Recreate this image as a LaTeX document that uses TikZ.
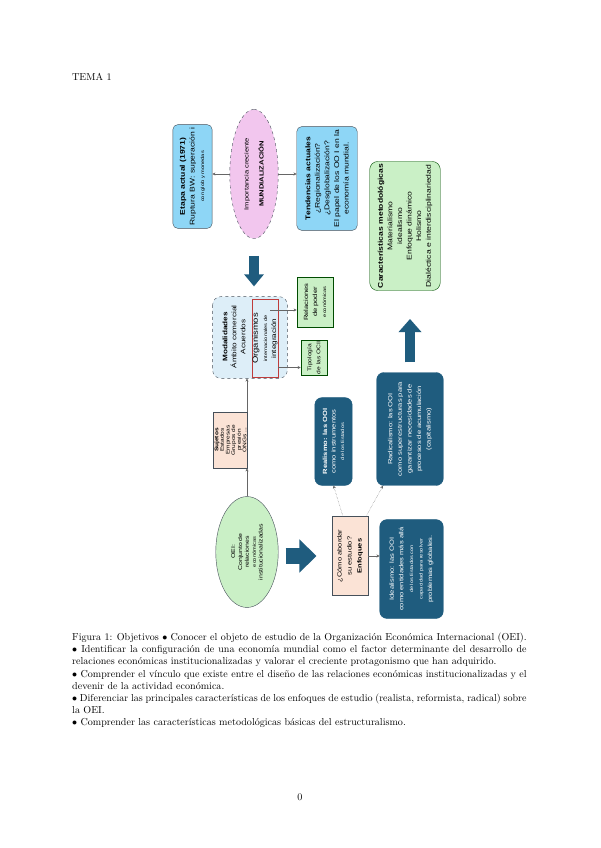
\documentclass[tikz,border=0pt]{standalone}
\usepackage{fontspec}
\usetikzlibrary{shapes.geometric, arrows.meta, calc}
\newfontfamily\diag[FakeStretch=1.25]{Liberation Sans}
\newcommand\smalltxt{\fontsize{4.5}{9}\selectfont}
\definecolor{boxblue}{RGB}{142,214,246}
\definecolor{boxpink}{RGB}{242,198,238}
\definecolor{boxgreen}{RGB}{202,240,198}
\definecolor{boxmod}{RGB}{221,238,248}
\definecolor{boxsand}{RGB}{251,227,214}
\definecolor{navy}{RGB}{31,92,126}
\definecolor{orgred}{RGB}{190,60,60}
\definecolor{edge}{RGB}{70,80,90}
\tikzset{
  rbox/.style={draw=edge, rotate=90, align=center, rounded corners=5pt, inner sep=1pt,
    font=\diag\fontsize{6.8}{9.5}\selectfont},
  bluebox/.style={rbox, fill=boxblue},
  greenbox/.style={rbox, fill=boxgreen, draw=green!30!black},
  sandbox/.style={rbox, fill=boxsand, rounded corners=0pt},
  navybox/.style={rbox, fill=navy, draw=navy, text=white, rounded corners=7pt},
  conn/.style={draw=gray!80!black, line width=0.4pt, -{Stealth[length=3pt,width=3pt]}},
  dotconn/.style={conn, densely dotted},
  fatarrow/.style={draw=navy, line width=#1}
}

\begin{document}
\begin{tikzpicture}[x=0.9917pt, y=-0.9917pt]
\fill[white] (0,0) rectangle (600,848);

\node[anchor=base west, inner sep=0] (tema) at (72,80) {TEMA 1};

\node[bluebox, minimum width=103, minimum height=39] (etapa) at (192.5,176.5)
  {\textbf{Etapa actual (1971)}\\Ruptura BW: superación i\\{\smalltxt con glob y monedas}};
\node[ellipse, draw=edge, dashed, fill=boxpink, rotate=90, minimum width=128, minimum height=48,
  inner sep=0, align=center, font=\diag\fontsize{6}{9}\selectfont] (mund) at (254,174)
  {Importancia creciente\\[6pt]\textbf{MUNDIALIZACIÓN}};
\node[bluebox, minimum width=103, minimum height=60] (tend) at (327,178.5)
  {\textbf{Tendencias actuales}\\¿Regionalización?\\¿Desglobalización?\\El papel de los OO I en la\\economía mundial.};
\node[greenbox, minimum width=128, minimum height=70, rounded corners=8pt] (carac) at (405,226)
  {\textbf{Características metodológicas}\\Materialismo\\idealismo\\Enfoque dinámico\\Holismo\\Dialéctica e interdisciplinariedad};

\node[rbox, fill=boxmod, dashed, minimum width=81, minimum height=74, rounded corners=8pt] (modal) at (250,337.5) {};
\node[rotate=90, align=center, inner sep=0, font=\diag\fontsize{6.5}{9}\selectfont] (modtxt) at (234,337)
  {\textbf{Modalidades}\\Ámbito comercial\\Acuerdos};
\node[draw=orgred, rotate=90, minimum width=77, minimum height=26, inner sep=0, align=center,
  font=\diag\fontsize{6.5}{9}\selectfont] (org) at (265,338.5)
  {{\fontsize{7.5}{9}\selectfont Organismos}\\{\smalltxt internacionales de}\\integración};
\node[greenbox, rounded corners=0pt, minimum width=50, minimum height=36, font=\diag\fontsize{6}{9}\selectfont] (rel) at (315,302)
  {Relaciones\\de poder\\{\smalltxt económicas}};
\node[greenbox, rounded corners=0pt, minimum width=29, minimum height=26, font=\diag\fontsize{5.3}{9}\selectfont] (tipo) at (314,357.5)
  {Tipología\\de las OCII};

\node[sandbox, minimum width=56, minimum height=31, font=\diag\fontsize{5.2}{5.6}\selectfont] (suj) at (230.5,440)
  {\textbf{Sujetos}\\Estados\\Empresas\\Grupos de\\presión\\ONGs ...};
\node[ellipse, draw=edge, fill=boxgreen, rotate=90, minimum width=110, minimum height=62, inner sep=0,
  align=center, font=\diag\fontsize{5.5}{6.8}\selectfont] (oei) at (247,552)
  {OEI:\\Conjunto de\\relaciones\\{\smalltxt económicas}\\institucionalizadas};
\node[sandbox, minimum width=78, minimum height=36, font=\diag\fontsize{6}{10}\selectfont] (como) at (350,556)
  {¿Cómo abordar\\su estudio?\\\textbf{Enfoques}};

\node[navybox, minimum width=87, minimum height=37, font=\diag\fontsize{6}{8.5}\selectfont] (real) at (333.5,441.5)
  {\textbf{Realismo: las OOI}\\como instrumentos\\{\smalltxt de los Estados}};
\node[navybox, minimum width=112, minimum height=66, font=\diag\fontsize{6}{9.5}\selectfont] (radi) at (410,429)
  {Radicalismo: las OOI\\como superestructuras para\\garantizar necesidades de\\procesos de acumulación\\(capitalismo)};
\node[navybox, minimum width=98, minimum height=63, font=\diag\fontsize{6}{9.5}\selectfont] (idea) at (411.5,569)
  {Idealismo: las OOI\\como entidades más allá\\{\smalltxt de los Estados con}\\{\smalltxt capacidad para resolver}\\problemas globales.};

\draw[conn] (mund.north) -- (mund.north -| etapa.south);
\draw[conn] (mund.south) -- (mund.south -| tend.north);
\draw[fatarrow=9pt, shorten <=17pt, shorten >=10pt, -{Triangle[width=19pt,length=12pt]}]
  (mund.west) -- (mund.west |- modal.east);
\draw[conn] ($(org.south |- rel.north)+(-8,8)$) -- ($(rel.north)+(0,8)$);
\draw[conn] ($(org.south |- tipo.north)+(0,10)$) -- ($(tipo.north)+(0,10)$);
\draw[conn] (oei.east |- suj.east) -- (oei.east |- modal.west);
\draw[conn] (oei.east) -- (oei.east |- suj.west);
\draw[fatarrow=15pt, shorten <=7pt, shorten >=15pt, -{Triangle[width=32pt,length=17pt]}]
  (oei.south |- como.north) -- (como.north);
\draw[dotconn] ($(como.east)+(-7,0)$) -- (real.west);
\draw[dotconn] ($(como.east)+(16,0)$) -- ($(radi.west)+(-27,0)$);
\draw[conn] (como.south) -- (como.south -| idea.north);
\draw[fatarrow=10pt, shorten <=10pt, shorten >=28pt, -{Triangle[width=22pt,length=13pt]}]
  (radi.east) -- (radi.east |- carac.west);

\node[anchor=north west, inner sep=0, text width=450.7pt, align=justify] (capt) at (72,633)
  {Figura 1: Objetivos $\bullet$ Conocer el objeto de estudio de la Organización Económica Internacional (OEI).\\
  $\bullet$ Identificar la configuración de una economía mundial como el factor determinante del desarrollo de relaciones económicas institucionalizadas y valorar el creciente protagonismo que han adquirido.\\
  $\bullet$ Comprender el vínculo que existe entre el diseño de las relaciones económicas institucionalizadas y el devenir de la actividad económica.\\
  $\bullet$ Diferenciar las principales características de los enfoques de estudio (realista, reformista, radical) sobre la OEI.\\
  $\bullet$ Comprender las características metodológicas básicas del estructuralismo.};

\node[anchor=base, inner sep=0] (pnum) at (300,800) {0};
\end{tikzpicture}
\end{document}
